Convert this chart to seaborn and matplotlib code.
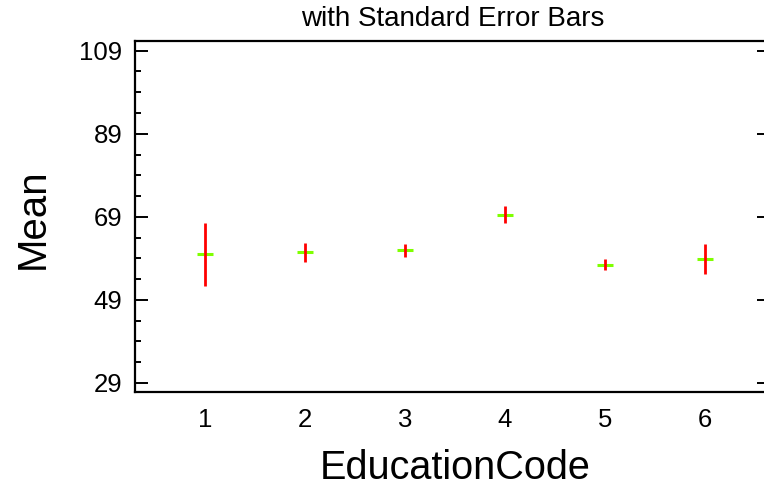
import matplotlib
matplotlib.use("Agg")
import matplotlib.pyplot as plt
from matplotlib.ticker import FixedLocator
import seaborn as sns
import pandas as pd

# ---- data ----
education_codes = [1, 2, 3, 4, 5, 6]
means = [60.0, 60.5, 60.9, 69.5, 57.5, 58.9]
std_errors = [7.55, 2.3, 1.6, 2.1, 1.3, 3.55]
y_ticks = [29, 49, 69, 89, 109]
title_text = "with Standard Error Bars"
x_label = "EducationCode"
y_label = "Mean"

df = pd.DataFrame({"EducationCode": education_codes, "Mean": means, "SE": std_errors})

sns.set_style("white")
plt.rcParams["font.family"] = ["Liberation Sans", "DejaVu Sans"]
plt.rcParams["text.color"] = "black"
plt.rcParams["axes.labelcolor"] = "black"
plt.rcParams["xtick.color"] = "black"
plt.rcParams["ytick.color"] = "black"

fig = plt.figure(figsize=(7.64, 4.87), dpi=100)
ax = fig.add_axes([135 / 764, 1 - 392.3 / 487, (770 - 135) / 764, (392.3 - 40.7) / 487])

green = "#7FFF00"
red = "#FF0000"

sns.scatterplot(data=df, x="EducationCode", y="Mean", marker="_", s=120,
                color=green, linewidth=2.2, ax=ax, zorder=2, legend=False)
ax.errorbar(df["EducationCode"], df["Mean"], yerr=df["SE"], fmt="none",
            ecolor=red, elinewidth=2.0, capsize=0, zorder=3)

ax.set_xlim(0.3, 6.65)
ax.set_ylim(26.76, 111.4)
ax.xaxis.set_major_locator(FixedLocator(education_codes))
ax.yaxis.set_major_locator(FixedLocator(y_ticks))
ax.yaxis.set_minor_locator(FixedLocator([v for v in range(29, 110, 5) if v not in y_ticks]))

for sp in ax.spines.values():
    sp.set_visible(True)
    sp.set_color("black")
    sp.set_linewidth(1.6)

ax.tick_params(axis="y", which="major", direction="in", length=9.4, width=1.4,
               left=True, right=True, labelsize=18.5, pad=9, colors="black")
ax.tick_params(axis="y", which="minor", direction="in", length=4.3, width=1.4,
               left=True, right=True)
ax.tick_params(axis="x", which="both", length=0, labelsize=18.5, pad=11, colors="black")

ax.set_title(title_text, fontsize=20, pad=10.6, color="black")
ax.set_xlabel(x_label, fontsize=28.5, color="black")
ax.set_ylabel(y_label, fontsize=29, color="black")
ax.xaxis.set_label_coords(0.504, -0.162)
ax.yaxis.set_label_coords(-0.1307, 0.493)
ax.xaxis.label.set_va("top")
ax.grid(False)

fig.savefig("out.png", dpi=100)
